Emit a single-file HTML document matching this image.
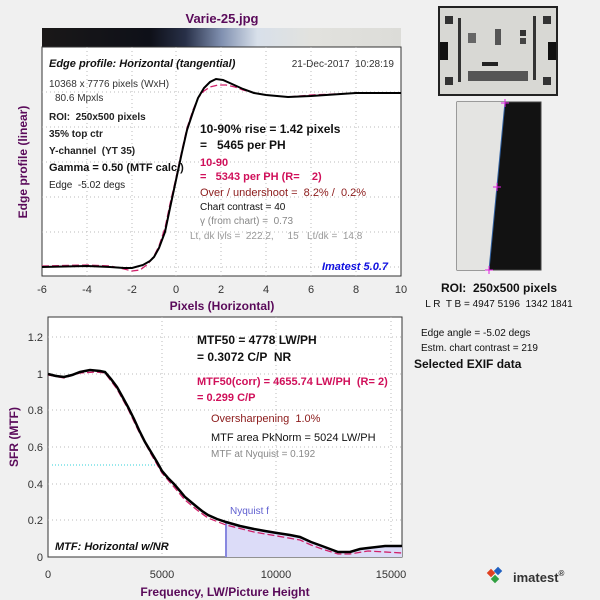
<!DOCTYPE html>
<html><head><meta charset="utf-8"><style>
body{margin:0;background:#f0f0f0;}
svg{display:block;font-family:"Liberation Sans",sans-serif;}
text{white-space:pre;}
</style></head><body>
<svg width="600" height="600" viewBox="0 0 600 600" xml:space="preserve">
<defs>
<linearGradient id="cb" x1="0" x2="1">
<stop offset="0" stop-color="#1a1818"/><stop offset="0.3" stop-color="#0e1018"/>
<stop offset="0.4" stop-color="#283048"/><stop offset="0.5" stop-color="#8090b0"/>
<stop offset="0.6" stop-color="#d8e0ea"/><stop offset="0.75" stop-color="#e2e2de"/><stop offset="1" stop-color="#dcdcd8"/>
</linearGradient>
</defs>
<rect width="600" height="600" fill="#f0f0f0"/>
<text x="222" y="23" text-anchor="middle" font-size="13" font-weight="bold" fill="#5a0a5a">Varie-25.jpg</text>
<rect x="42" y="28" width="359" height="19" fill="url(#cb)"/>
<!-- top plot -->
<rect x="42" y="47" width="359" height="229" fill="#fff" stroke="#333"/>
<g stroke="#bbb" stroke-dasharray="1,3">
<line x1="87" y1="47" x2="87" y2="276"/><line x1="132" y1="47" x2="132" y2="276"/><line x1="176" y1="47" x2="176" y2="276"/><line x1="221" y1="47" x2="221" y2="276"/><line x1="266" y1="47" x2="266" y2="276"/><line x1="311" y1="47" x2="311" y2="276"/><line x1="356" y1="47" x2="356" y2="276"/>
<line x1="42" y1="92" x2="401" y2="92"/><line x1="42" y1="127" x2="401" y2="127"/><line x1="42" y1="162" x2="401" y2="162"/><line x1="42" y1="197" x2="401" y2="197"/><line x1="42" y1="232" x2="401" y2="232"/><line x1="42" y1="267" x2="401" y2="267"/>
</g>
<polyline fill="none" stroke="#d0206a" stroke-width="1.3" stroke-dasharray="7,3" points="42,266 87,265 110,266 124,269 132,271 140,270 148,264 154,256 159,246 165,228 170,204 176,178 182,150 187,128 193,110 198,98 204,91 210,87 218,85 226,85 235,87 243,90 254,93 266,95 288,97 311,95 356,93 401,93"/>
<polyline fill="none" stroke="#000" stroke-width="2" points="42,267 87,266 110,267 124,268 132,268 143,265 150,261 154,257 159,248 165,232 170,208 176,180 182,152 187,130 193,112 198,98 204,88 210,82 216,79 223,80 232,84 243,89 254,93 266,95 288,97 311,96 356,93 401,93"/>
<g font-size="11" fill="#333" text-anchor="middle">
<text x="42" y="293">-6</text><text x="87" y="293">-4</text><text x="132" y="293">-2</text><text x="176" y="293">0</text><text x="221" y="293">2</text><text x="266" y="293">4</text><text x="311" y="293">6</text><text x="356" y="293">8</text><text x="401" y="293">10</text>
</g>
<text x="222" y="310" text-anchor="middle" font-size="12" font-weight="bold" fill="#5a0a5a">Pixels (Horizontal)</text>
<text transform="translate(27,162) rotate(-90)" text-anchor="middle" font-size="12" font-weight="bold" fill="#5a0a5a">Edge profile (linear)</text>
<text x="49" y="67" font-size="11" font-weight="bold" font-style="italic" fill="#111">Edge profile: Horizontal (tangential)</text>
<text x="394" y="67" text-anchor="end" font-size="10" fill="#333">21-Dec-2017  10:28:19</text>
<g font-size="10" fill="#333"><text x="49" y="87">10368 x 7776 pixels (WxH)</text><text x="55" y="101">80.6 Mpxls</text></g>
<g font-size="10" font-weight="bold" fill="#222"><text x="49" y="120">ROI:  250x500 pixels</text><text x="49" y="137">35% top ctr</text><text x="49" y="154">Y-channel  (YT 35)</text></g>
<text x="49" y="171" font-size="11" font-weight="bold" fill="#111">Gamma = 0.50 (MTF calc.)</text>
<text x="49" y="188" font-size="10" fill="#222">Edge  -5.02 degs</text>
<g font-size="12" font-weight="bold" fill="#111"><text x="200" y="133">10-90% rise = 1.42 pixels</text><text x="200" y="149">=   5465 per PH</text></g>
<g font-size="11" font-weight="bold" fill="#d0105a"><text x="200" y="166">10-90</text><text x="200" y="180">=   5343 per PH (R=    2)</text></g>
<text x="200" y="196" font-size="11" fill="#8b1a1a">Over / undershoot =  8.2% /  0.2%</text>
<text x="200" y="210" font-size="10" fill="#111">Chart contrast = 40</text>
<text x="200" y="224" font-size="10" fill="#888">γ (from chart) =  0.73</text>
<text x="190" y="239" font-size="10" fill="#999">Lt, dk lvls =  222.2,     15   Lt/dk =  14.8</text>
<text x="388" y="270" text-anchor="end" font-size="11" font-weight="bold" font-style="italic" fill="#1010e0">Imatest 5.0.7</text>
<!-- bottom plot -->
<rect x="48" y="317" width="354" height="240" fill="#fff" stroke="#333"/>
<g stroke="#bbb" stroke-dasharray="1,3">
<line x1="162" y1="317" x2="162" y2="557"/><line x1="276" y1="317" x2="276" y2="557"/><line x1="391" y1="317" x2="391" y2="557"/>
<line x1="48" y1="337" x2="402" y2="337"/><line x1="48" y1="374" x2="402" y2="374"/><line x1="48" y1="410" x2="402" y2="410"/><line x1="48" y1="447" x2="402" y2="447"/><line x1="48" y1="484" x2="402" y2="484"/><line x1="48" y1="520" x2="402" y2="520"/>
</g>
<polygon fill="#dcdcf8" points="226,557 226,522 254,529 277,533 300,537 311,542 322,546 338,552 350,552 368,548 402,546 402,557"/>
<line x1="226" y1="522" x2="226" y2="557" stroke="#8888e0" stroke-width="2"/>
<text x="230" y="514" font-size="10" fill="#6060d0">Nyquist f</text>
<line x1="52" y1="465" x2="155" y2="465" stroke="#30d0d8" stroke-dasharray="1,2"/>
<polyline fill="none" stroke="#d0206a" stroke-width="1.3" stroke-dasharray="7,3" points="48,375 64,378 80,373 96,372 105,373 117,389 128,409 139,432 151,454 162,473 174,487 185,500 197,510 208,518 226,525 254,532 277,536 300,540 311,545 322,549 338,554 350,554 368,551 402,553"/>
<polyline fill="none" stroke="#000" stroke-width="2.5" points="48,374 56,376 64,377 72,375 80,372 90,370 100,371 105,372 111,379 117,387 122,396 128,407 134,419 139,430 145,442 151,452 157,462 162,471 168,478 174,484 180,491 185,497 191,502 197,507 202,511 208,515 217,519 226,522 240,526 254,529 265,531 277,533 290,535 300,537 311,542 322,546 330,549 338,552 350,552 360,549 368,548 385,546 402,546"/>
<g font-size="11" fill="#333" text-anchor="end">
<text x="43" y="341">1.2</text><text x="43" y="378">1</text><text x="43" y="414">0.8</text><text x="43" y="451">0.6</text><text x="43" y="488">0.4</text><text x="43" y="524">0.2</text><text x="43" y="561">0</text>
</g>
<g font-size="11" fill="#333" text-anchor="middle">
<text x="48" y="578">0</text><text x="162" y="578">5000</text><text x="276" y="578">10000</text><text x="391" y="578">15000</text>
</g>
<text x="225" y="596" text-anchor="middle" font-size="12" font-weight="bold" fill="#5a0a5a">Frequency, LW/Picture Height</text>
<text transform="translate(18,437) rotate(-90)" text-anchor="middle" font-size="12" font-weight="bold" fill="#5a0a5a">SFR (MTF)</text>
<g font-size="12" font-weight="bold" fill="#111"><text x="197" y="344">MTF50 = 4778 LW/PH</text><text x="197" y="361">= 0.3072 C/P  NR</text></g>
<g font-size="11" font-weight="bold" fill="#d0105a"><text x="197" y="385">MTF50(corr) = 4655.74 LW/PH  (R= 2)</text><text x="197" y="401">= 0.299 C/P</text></g>
<text x="211" y="422" font-size="11" fill="#8b1a1a">Oversharpening  1.0%</text>
<text x="211" y="441" font-size="11" fill="#111">MTF area PkNorm = 5024 LW/PH</text>
<text x="211" y="457" font-size="10" fill="#888">MTF at Nyquist = 0.192</text>
<text x="55" y="550" font-size="11" font-weight="bold" font-style="italic" fill="#111">MTF: Horizontal w/NR</text>
<!-- right side -->
<rect x="438" y="6" width="120" height="90" fill="#222"/>
<rect x="440" y="8" width="116" height="86" fill="#d8d8d4"/>
<rect x="445" y="16" width="8" height="8" fill="#333"/><rect x="543" y="16" width="8" height="8" fill="#333"/>
<rect x="445" y="77" width="8" height="8" fill="#333"/><rect x="543" y="77" width="8" height="8" fill="#333"/>
<rect x="440" y="42" width="8" height="18" fill="#111"/><rect x="548" y="42" width="8" height="18" fill="#111"/>
<rect x="458" y="18" width="3" height="64" fill="#333"/><rect x="533" y="16" width="3" height="64" fill="#333"/>
<rect x="468" y="71" width="60" height="10" fill="#555"/>
<rect x="495" y="29" width="6" height="16" fill="#555"/><rect x="482" y="62" width="16" height="4" fill="#222"/>
<rect x="468" y="33" width="8" height="10" fill="#666"/><rect x="520" y="30" width="6" height="6" fill="#333"/><rect x="520" y="38" width="6" height="6" fill="#444"/>
<rect x="457" y="102" width="84" height="168" fill="#121212" stroke="#444"/>
<polygon points="457,102 505,102 489,270 457,270" fill="#e4e4e2"/>
<line x1="505" y1="102" x2="489" y2="270" stroke="#3060a0" stroke-width="1"/>
<g stroke="#e020e0"><line x1="501" y1="103" x2="509" y2="103"/><line x1="505" y1="99" x2="505" y2="107"/><line x1="493" y1="187" x2="501" y2="187"/><line x1="497" y1="183" x2="497" y2="191"/><line x1="485" y1="270" x2="493" y2="270"/><line x1="489" y1="266" x2="489" y2="274"/></g>
<text x="499" y="292" text-anchor="middle" font-size="12" font-weight="bold" fill="#111">ROI:  250x500 pixels</text>
<text x="499" y="307" text-anchor="middle" font-size="10" fill="#111">L R  T B = 4947 5196  1342 1841</text>
<text x="421" y="336" font-size="10" fill="#111">Edge angle = -5.02 degs</text>
<text x="421" y="351" font-size="10" fill="#111">Estm. chart contrast = 219</text>
<text x="414" y="368" font-size="12" font-weight="bold" fill="#111">Selected EXIF data</text>
<g transform="translate(488,570)"><rect x="0" y="0" width="6" height="6" fill="#e04020" transform="rotate(45 3 3)"/><rect x="7" y="-2" width="6" height="6" fill="#2060c0" transform="rotate(45 10 1)"/><rect x="4" y="6" width="6" height="6" fill="#30a040" transform="rotate(45 7 9)"/></g>
<text x="513" y="582" font-size="13" font-weight="bold" fill="#333">imatest<tspan font-size="8" dy="-6">®</tspan></text>
</svg>
</body></html>
